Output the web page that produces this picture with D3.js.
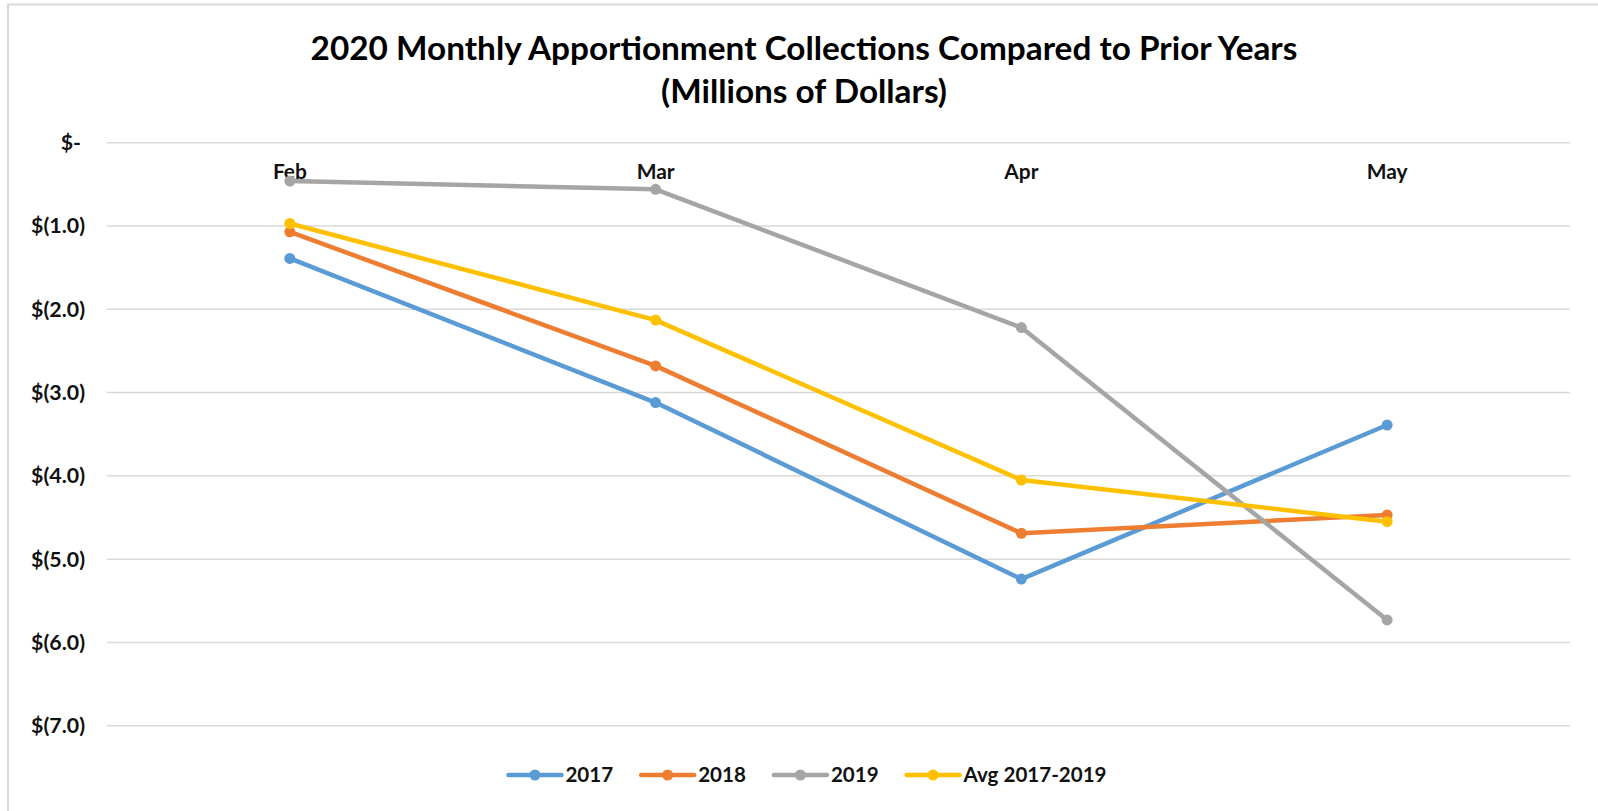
<!DOCTYPE html>
<html><head><meta charset="utf-8">
<script src="https://cdn.jsdelivr.net/npm/d3@7"></script>
<style>html,body{margin:0;padding:0;background:#fff;}svg{display:block;}</style>
</head><body>
<svg id="chart" width="1598" height="811"></svg>
<script>
const months = ["Feb", "Mar", "Apr", "May"];
const seriesNames = ["2017", "2018", "2019", "Avg 2017-2019"];
const v2017 = [-1.39, -3.12, -5.24, -3.39];
const v2018 = [-1.07, -2.68, -4.69, -4.47];
const v2019 = [-0.46, -0.56, -2.22, -5.73];
const vAvg  = [-0.97, -2.13, -4.05, -4.55];
const yTicks = [0, -1, -2, -3, -4, -5, -6, -7];
const colors = ["#5B9BD5", "#ED7D31", "#A5A5A5", "#FFC000"];
const titleLines = ["2020 Monthly Apportionment Collections Compared to Prior Years", "(Millions of Dollars)"];

const series = seriesNames.map((n, i) => ({name: n, values: [v2017, v2018, v2019, vAvg][i], color: colors[i]}));
const FONT = "Lato, 'Open Sans', sans-serif";
const svg = d3.select("#chart");

// border
svg.append("rect").attr("x", 8).attr("y", 4.5).attr("width", 1610).attr("height", 830)
  .attr("fill", "none").attr("stroke", "#d9d9d9").attr("stroke-width", 2);

const x = d3.scaleBand().domain(months).range([107, 1570]);
const y = d3.scaleLinear().domain([0, -7]).range([142.7, 725.7]);

function fitSize(sel, target, base) {
  const w = sel.node().getComputedTextLength();
  const s = base * target / w;
  sel.attr("font-size", s);
  return s;
}

// gridlines
svg.append("g").selectAll("line").data(yTicks).join("line")
  .attr("x1", x.range()[0]).attr("x2", x.range()[1])
  .attr("y1", d => y(d)).attr("y2", d => y(d))
  .attr("stroke", "#d9d9d9").attr("stroke-width", 1.5);

// y labels
const fmt = d => d === 0 ? "$-" : "$(" + Math.abs(d).toFixed(1) + ")";
const yl = svg.append("g").attr("font-family", FONT).attr("font-weight", "bold").attr("fill", "#111");
const ylab = yl.selectAll("text").data(yTicks).join("text")
  .attr("x", d => d === 0 ? 81 : 85).attr("y", d => y(d)).attr("dy", "0.35em")
  .attr("text-anchor", "end").attr("font-size", 19).text(fmt);
const sz = fitSize(d3.select(ylab.nodes()[1]), 54, 19);
ylab.attr("font-size", sz);

// category labels
const cl = svg.append("g").attr("font-family", FONT).attr("font-weight", "bold").attr("fill", "#111");
const clab = cl.selectAll("text").data(months).join("text")
  .attr("x", d => x(d) + x.bandwidth() / 2).attr("y", 178.5)
  .attr("text-anchor", "middle").attr("font-size", 19).text(d => d);
const csz = fitSize(d3.select(clab.nodes()[0]), 34, 19);
clab.attr("font-size", csz);

// lines
const line = d3.line().x((d, i) => x(months[i]) + x.bandwidth() / 2).y(d => y(d));
const sg = svg.append("g");
series.forEach(s => {
  const g = sg.append("g");
  g.append("path").attr("d", line(s.values)).attr("fill", "none")
    .attr("stroke", s.color).attr("stroke-width", 4.5).attr("stroke-linejoin", "round").attr("stroke-linecap", "round");
  g.selectAll("circle").data(s.values).join("circle")
    .attr("cx", (d, i) => x(months[i]) + x.bandwidth() / 2).attr("cy", d => y(d))
    .attr("r", 5.5).attr("fill", s.color);
});

// title
const tg = svg.append("g").attr("font-family", FONT).attr("font-weight", "bold").attr("fill", "#000");
const t1 = tg.append("text").attr("x", 804).attr("y", 59.5).attr("text-anchor", "middle").attr("font-size", 26).text(titleLines[0]);
const tsz = fitSize(t1, 987, 26);
tg.append("text").attr("x", 804).attr("y", 102.5).attr("text-anchor", "middle").attr("font-size", tsz).text(titleLines[1]);

// legend
const lg = svg.append("g").attr("font-family", FONT).attr("font-weight", "bold").attr("fill", "#111");
const ly = 775;
const items = series.map(s => {
  const g = lg.append("g");
  const t = g.append("text").attr("y", ly).attr("dy", "0.35em").attr("font-size", 20).text(s.name);
  return {g, t, s};
});
const lsz = fitSize(items[3].t, 143, 20);
items.forEach(it => it.t.attr("font-size", lsz));
const lineLen = 53, gap = 4, between = 28;
let total = 0;
items.forEach((it, i) => { it.w = it.t.node().getComputedTextLength(); total += lineLen + gap + it.w + (i < items.length - 1 ? between : 0); });
let cx = 807.5 - total / 2;
items.forEach(it => {
  it.g.append("line").attr("x1", cx).attr("x2", cx + lineLen).attr("y1", ly).attr("y2", ly)
    .attr("stroke", it.s.color).attr("stroke-width", 4.5).attr("stroke-linecap", "round");
  it.g.append("circle").attr("cx", cx + lineLen / 2).attr("cy", ly).attr("r", 5.5).attr("fill", it.s.color);
  it.t.attr("x", cx + lineLen + gap);
  cx += lineLen + gap + it.w + between;
});
</script>
</body></html>
